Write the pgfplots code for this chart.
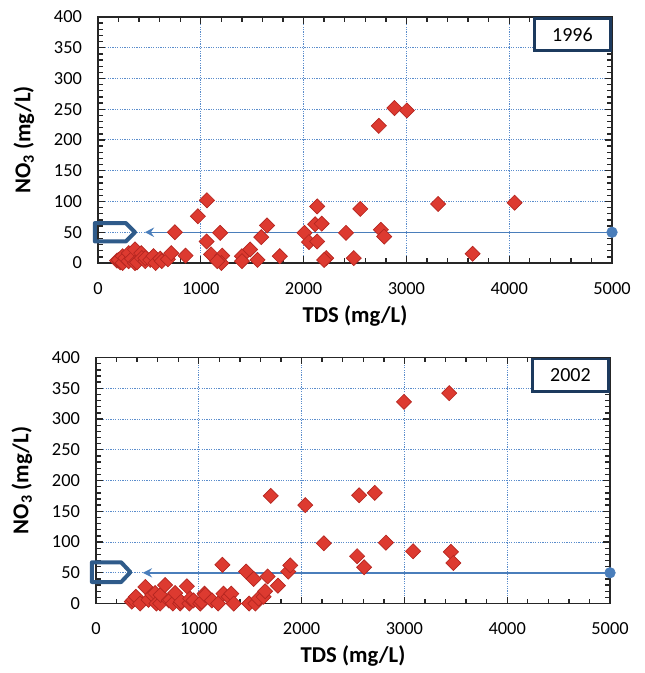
\documentclass[border=0pt]{standalone}
\usepackage{fontspec}
\setmainfont{Carlito}
\usepackage{pgfplots}
\pgfplotsset{compat=1.18}
\usetikzlibrary{arrows.meta}

\definecolor{mred}{HTML}{DD3A30}
\definecolor{mredd}{HTML}{B42620}
\definecolor{gridblue}{HTML}{5B8DCC}
\definecolor{lineblue}{HTML}{4A7EBB}
\definecolor{pentblue}{HTML}{2F5B8A}
\definecolor{boxnavy}{HTML}{1C3A5E}
\definecolor{axisgray}{HTML}{262626}

\tikzset{
  yearbox/.style={draw=boxnavy, line width=2.2pt, fill=white},
  pent/.style={pentblue, line width=3pt, line join=round},
}

\pgfplotsset{
  panel/.style={
    width=385.5pt, height=184.5pt, scale only axis,
    xmin=0, xmax=5000, ymin=0, ymax=400,
    xtick={0,1000,...,5000}, ytick={0,50,...,400},
    minor x tick num=4, minor y tick num=4,
    tick align=inside, major tick length=5pt, minor tick length=3.5pt,
    grid=major,
    major grid style={gridblue, dash pattern=on 0.9pt off 0.9pt, line width=0.75pt},
    axis line style={axisgray, line width=1.4pt},
    every tick/.style={axisgray, line width=1pt},
    ticklabel style={font=\fontsize{13.8}{15}\selectfont},
    xticklabel style={yshift=-11pt},
    yticklabel style={xshift=-8.5pt},
    /pgf/number format/assume math mode=true,
    /pgf/number format/1000 sep={},
    xlabel={TDS (mg/L)}, ylabel={NO\textsubscript{3} (mg/L)},
    label style={font=\bfseries\fontsize{17}{19}\selectfont},
    xlabel style={at={(axis description cs:0.5,-0.215)}, anchor=center},
    ylabel style={at={(axis description cs:-0.144,0.5)}, anchor=center},
    clip=false,
  },
  pts/.style={only marks, mark=square*, mark size=4pt,
    mark options={rotate=45, fill=mred, draw=mredd, line width=0.5pt}},
  limit/.style={lineblue, line width=1.1pt,
    -{Stealth[length=7pt, width=7pt, inset=2.5pt]}},
}

\begin{document}
\begin{tikzpicture}

% 1996
\begin{axis}[panel, at={(0,0)}, anchor=south west]
\addplot[limit] coordinates {(5000,50) (455,50)};
\addplot[only marks, mark=*, mark size=4pt, color=lineblue] coordinates {(5000,50)};
\draw[pent]
  (axis cs:-30,35) -- (axis cs:270,35) -- (axis cs:360,50) -- (axis cs:270,65) -- (axis cs:-30,65) -- cycle;
\addplot[pts] coordinates {
  (185,4) (217,1) (200,5) (240,11) (240,0) (265,8) (298,3) (300,16)
  (330,7) (360,22) (360,0) (379,1) (420,16) (427,8) (460,3) (460,8)
  (508,5) (540,11) (560,0) (605,7) (620,3) (680,6) (712,16) (748,50)
  (852,12) (972,76) (1060,102) (1056,35) (1100,14) (1188,49) (1208,12)
  (1200,0) (1160,3) (1400,11) (1400,3) (1480,22) (1552,5) (1588,42)
  (1644,61) (1768,11) (2008,49) (2052,34) (2112,63) (2176,64) (2132,35)
  (2132,92) (2220,8) (2200,5) (2412,49) (2488,8) (2552,88) (2732,223)
  (2884,252) (3004,248) (2752,54) (2784,43) (3308,96) (3644,15) (4052,98)
};
\draw[yearbox] (axis cs:4244,345.5) rectangle (axis cs:4986,397.6);
\node[font=\fontsize{15}{17}\selectfont] at (axis cs:4615,371.5) {1996};
\end{axis}

% 2002
\begin{axis}[panel, at={(-1.5pt,-255.4pt)}, anchor=south west]
\addplot[limit] coordinates {(5000,50) (455,50)};
\addplot[only marks, mark=*, mark size=4pt, color=lineblue] coordinates {(5000,50)};
\draw[pent]
  (axis cs:-40,35) -- (axis cs:245,35) -- (axis cs:335,51) -- (axis cs:245,67) -- (axis cs:-40,67) -- cycle;
\addplot[pts] coordinates {
  (348,3) (364,6) (388,11) (429,0) (480,27) (510,6) (548,14) (575,17)
  (588,0) (624,0) (628,14) (672,30) (708,5) (721,6) (748,0) (770,17)
  (819,0) (828,3) (884,28) (908,0) (916,8) (948,5) (1014,0) (1028,3)
  (1056,16) (1062,14) (1128,5) (1188,0) (1230,63) (1240,16) (1290,11)
  (1316,16) (1340,0) (1460,52) (1490,0) (1534,40) (1550,0) (1582,8)
  (1630,11) (1645,20) (1670,44) (1700,175) (1770,29) (1870,52) (1890,62)
  (2036,160) (2216,98) (2540,77) (2560,176) (2608,59) (2712,180) (2820,99)
  (2996,328) (3084,85) (3436,342) (3452,84) (3476,66)
};
\draw[yearbox] (axis cs:4244,345.5) rectangle (axis cs:4986,397.6);
\node[font=\fontsize{15}{17}\selectfont] at (axis cs:4615,371.5) {2002};
\end{axis}

\path (-73.5pt,-307.5pt) rectangle (409.5pt,197.25pt);
\end{tikzpicture}
\end{document}
